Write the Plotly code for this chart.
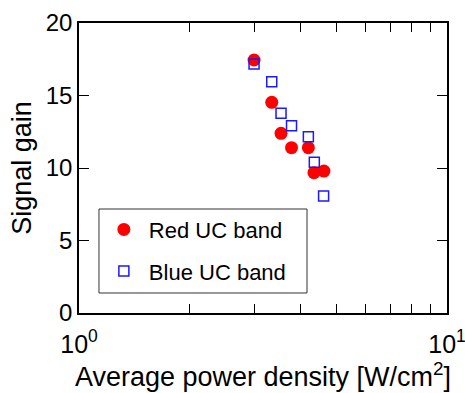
import plotly.graph_objects as go

# Data
red_x = [2.99, 3.34, 3.54, 3.78, 4.20, 4.35, 4.63]
red_y = [17.45, 14.53, 12.39, 11.40, 11.40, 9.68, 9.79]
blue_x = [2.99, 3.34, 3.54, 3.78, 4.20, 4.36, 4.62]
blue_y = [17.17, 15.95, 13.77, 12.92, 12.16, 10.39, 8.07]

x_tickvals = [1, 2, 3, 4, 5, 6, 7, 8, 9, 10]
x_ticktext = ["10<sup>0</sup>", "", "", "", "", "", "", "", "", "10<sup>1</sup>"]
y_tickvals = [0, 5, 10, 15, 20]

FONT = "Liberation Sans, Arial, sans-serif"

fig = go.Figure()
fig.add_trace(go.Scatter(
    x=red_x, y=red_y, mode="markers", name="Red UC band",
    legendgroup="r",
    marker=dict(symbol="circle", size=13, color="#ff0000", line=dict(width=0)),
))
fig.add_trace(go.Scatter(
    x=blue_x, y=blue_y, mode="markers", name="Blue UC band",
    legendgroup="b",
    marker=dict(symbol="square-open", size=10, color="#1a1aff", line=dict(width=1.5)),
))

fig.update_layout(
    width=465, height=393,
    margin=dict(l=79, r=18, t=23, b=80),
    paper_bgcolor="white", plot_bgcolor="white",
    font=dict(family=FONT, color="black"),
    showlegend=True,
    legend=dict(
        x=0.054, y=0.36, xanchor="left", yanchor="top",
        bgcolor="rgba(0,0,0,0)", borderwidth=0,
        font=dict(size=22, family=FONT),
        tracegroupgap=10,
        itemwidth=40,
    ),
    shapes=[dict(
        type="rect", xref="paper", yref="paper",
        x0=0.0543, x1=0.6196, y0=0.069, y1=0.3586,
        line=dict(color="#333333", width=1), fillcolor="white", layer="above",
    )],
)

fig.update_xaxes(
    type="log", range=[0, 1], automargin=False,
    tickmode="array", tickvals=x_tickvals, ticktext=x_ticktext,
    ticks="inside", ticklen=9, tickcolor="black",
    ticklabeloverflow="allow", ticklabelstandoff=8,
    showline=True, linecolor="black", linewidth=1.5, mirror="ticks",
    showgrid=False, zeroline=False,
    tickfont=dict(size=25),
    title=dict(text="Average power density [W/cm<sup>2</sup>]", font=dict(size=27), standoff=10),
)
fig.update_yaxes(
    range=[0, 20], automargin=False,
    tickmode="array", tickvals=y_tickvals,
    ticks="inside", ticklen=10, tickcolor="black",
    showline=True, linecolor="black", linewidth=1.5, mirror="ticks",
    showgrid=False, zeroline=False,
    tickfont=dict(size=24),
    title=dict(text="Signal gain", font=dict(size=27), standoff=6),
)

fig.write_html("out.html")
